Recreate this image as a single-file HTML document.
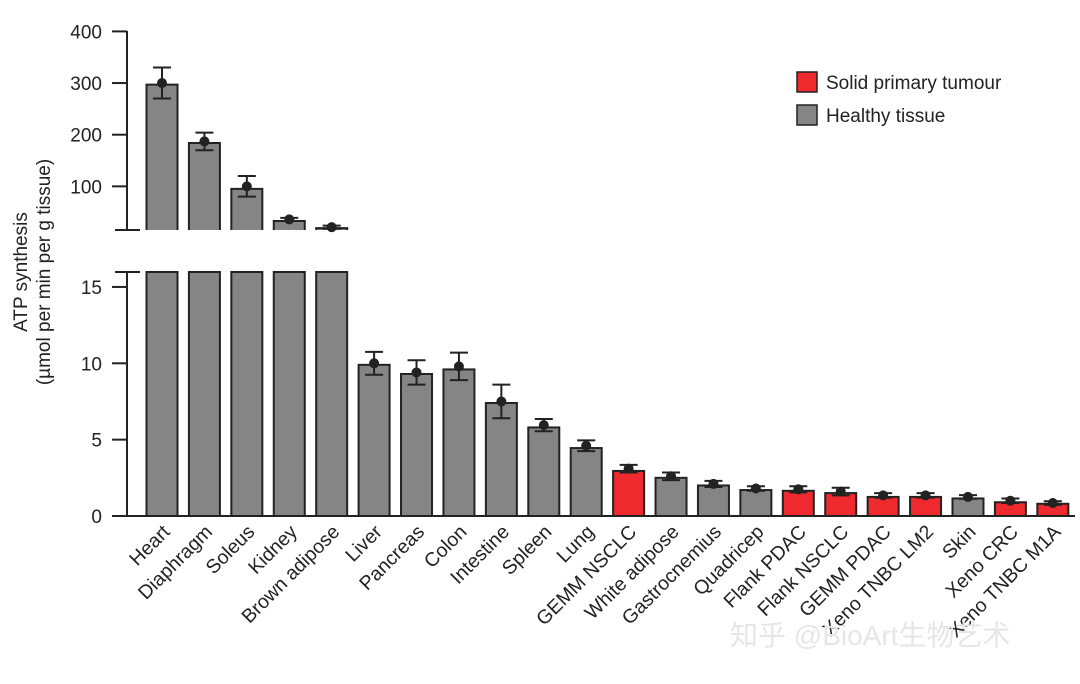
<!DOCTYPE html>
<html><head><meta charset="utf-8"><style>
body{margin:0;background:#fff;}
svg text{font-family:"Liberation Sans","Noto Sans CJK SC",sans-serif;fill:#222;}
</style></head><body>
<svg id="chart" width="1080" height="679" viewBox="0 0 1080 679" xmlns="http://www.w3.org/2000/svg">
<g id="axes"></g>
<g id="bars"></g>
<g id="labels"></g>
<g transform="translate(27,272) rotate(-90)">
<text x="0" y="0" text-anchor="middle" font-size="19">ATP synthesis</text>
<text x="0" y="23" text-anchor="middle" font-size="19">(µmol per min per g tissue)</text>
</g>
<g>
<rect x="797" y="72" width="20" height="20" fill="#ee2a2e" stroke="#222" stroke-width="1.5"/>
<text x="826" y="89" font-size="19">Solid primary tumour</text>
<rect x="797" y="105" width="20" height="20" fill="#858585" stroke="#222" stroke-width="1.5"/>
<text x="826" y="122" font-size="19">Healthy tissue</text>
</g>
<text x="730" y="645" font-size="28" style="fill:#e6e6e6">知乎 @BioArt生物艺术</text>
</svg>
<script>
const categories=["Heart","Diaphragm","Soleus","Kidney","Brown adipose","Liver","Pancreas","Colon","Intestine","Spleen","Lung","GEMM NSCLC","White adipose","Gastrocnemius","Quadricep","Flank PDAC","Flank NSCLC","GEMM PDAC","Xeno TNBC LM2","Skin","Xeno CRC","Xeno TNBC M1A"];
const barValues=[297,184,95,33,19,9.9,9.3,9.6,7.4,5.8,4.45,2.95,2.5,2.0,1.7,1.65,1.5,1.25,1.25,1.15,0.9,0.8];
const meanValues=[300,187,100,36,21,10.0,9.4,9.8,7.5,5.95,4.6,3.1,2.6,2.1,1.8,1.75,1.6,1.35,1.35,1.25,1.0,0.85];
const errValues=[30,17,20,3,3,0.75,0.8,0.9,1.1,0.4,0.35,0.25,0.25,0.2,0.15,0.2,0.25,0.15,0.15,0.12,0.15,0.12];
const isTumour=[0,0,0,0,0,0,0,0,0,0,0,1,0,0,0,1,1,1,1,0,1,1];
const upperTicks=[100,200,300,400];
const lowerTicks=[0,5,10,15];
const NS="http://www.w3.org/2000/svg";
const X0=127, X1=1075;
const yLow=v=>516-v*15.27;
const yUp=v=>238-v*0.5165;
const LOW_TOP=272, UP_BOT=230;
const xC=i=>162+i*42.42;
function mk(tag,attrs,parent){const e=document.createElementNS(NS,tag);for(const k in attrs)e.setAttribute(k,attrs[k]);parent.appendChild(e);return e;}
const axes=document.getElementById('axes'),bars=document.getElementById('bars'),labels=document.getElementById('labels');
let l=mk('line',{x1:X0,y1:31,x2:X0,y2:UP_BOT,stroke:'#222','stroke-width':2},axes);

l=mk('line',{x1:X0,y1:LOW_TOP,x2:X0,y2:517,stroke:'#222','stroke-width':2},axes);

l=mk('line',{x1:X0,y1:516,x2:X1,y2:516,stroke:'#222','stroke-width':2},axes);

[UP_BOT,LOW_TOP].forEach(y=>{const b=mk('line',{x1:115,y1:y,x2:140,y2:y,stroke:'#222','stroke-width':2},axes);
});
function tick(y,t){const tl=mk('line',{x1:112,y1:y,x2:X0,y2:y,stroke:'#222','stroke-width':2},axes);

const tx=mk('text',{x:102,y:y+7,'text-anchor':'end','font-size':19},axes);tx.textContent=t;
}
upperTicks.forEach(v=>tick(yUp(v),v));
lowerTicks.forEach(v=>tick(yLow(v),v));
categories.forEach((c,i)=>{
const x=xC(i),w=31,fill=isTumour[i]?'#ee2a2e':'#858585';
const v=barValues[i],m=meanValues[i],e=errValues[i];
const big=v>16;const Y=big?yUp:yLow;
if(big){
let r=mk('rect',{x:x-w/2,y:LOW_TOP,width:w,height:516-LOW_TOP,fill:fill,stroke:'#222','stroke-width':2},bars);

const top=Y(v);
r=mk('path',{d:`M${x-w/2},${UP_BOT}V${top}H${x+w/2}V${UP_BOT}`,fill:fill,stroke:'#222','stroke-width':2},bars);

}else{
const r=mk('rect',{x:x-w/2,y:Y(v),width:w,height:516-Y(v),fill:fill,stroke:'#222','stroke-width':2},bars);
}
const eb=mk('path',{d:`M${x},${Y(m-e)}V${Y(m+e)}M${x-9},${Y(m-e)}H${x+9}M${x-9},${Y(m+e)}H${x+9}`,stroke:'#222','stroke-width':2,fill:'none'},bars);

const d=mk('circle',{cx:x,cy:Y(m),r:5,fill:'#222'},bars);

const t=mk('text',{x:x+9,y:533,'text-anchor':'end','font-size':19.5,transform:`rotate(-45 ${x+9} 533)`},labels);
t.textContent=c;
});
</script>
</body></html>
